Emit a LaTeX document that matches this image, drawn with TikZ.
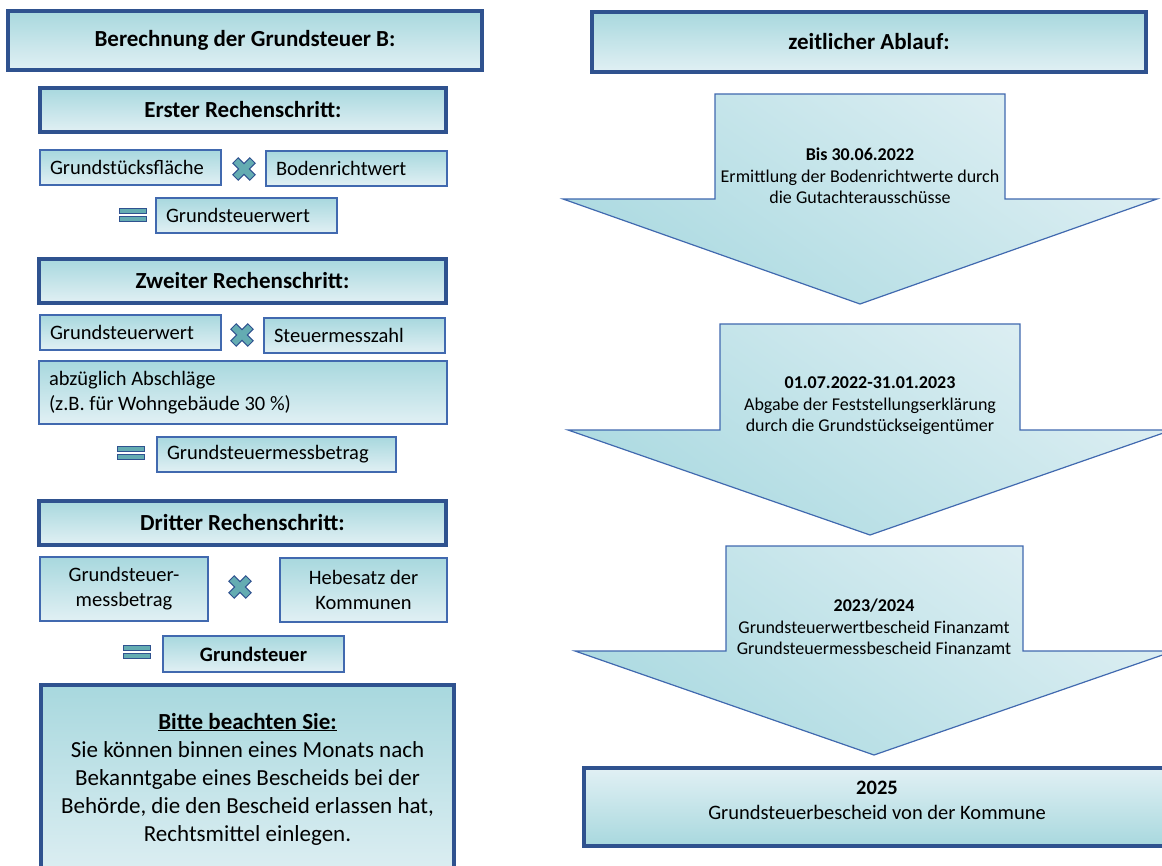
\documentclass[tikz,border=0pt]{standalone}
\usepackage{fontspec}
\setmainfont{Carlito}
\usepackage{tikz}
\usetikzlibrary{positioning,calc}
\definecolor{hdblue}{RGB}{47,82,143}
\definecolor{lnblue}{RGB}{65,105,175}
\definecolor{tealdark}{RGB}{168,216,222}
\definecolor{teallight}{RGB}{225,240,244}
\definecolor{arrowlight}{RGB}{222,239,243}
\definecolor{arrowdark}{RGB}{172,218,225}
\definecolor{signteal}{RGB}{100,172,178}
\tikzstyle{head} = [draw=hdblue, line width=4pt, top color=tealdark, bottom color=teallight, inner sep=0pt, font=\bfseries\fontsize{23}{27}\selectfont]
\tikzstyle{cell} = [draw=lnblue, line width=1.5pt, top color=tealdark, bottom color=teallight, inner sep=0pt, align=center, font=\fontsize{20.5}{25}\selectfont]
\tikzstyle{cellleft} = [cell, align=flush left, inner xsep=10pt]
\tikzstyle{phase} = [draw=lnblue, line width=1.2pt, top color=arrowlight, bottom color=arrowdark, shading angle=-35]
\tikzstyle{phasetext} = [align=center, font=\fontsize{18}{21.5}\selectfont]
\tikzstyle{note} = [align=center, font=\fontsize{23}{28}\selectfont]
\tikzset{
  mult/.pic={\draw[draw=hdblue, fill=signteal, line width=1pt, rotate=45]
    (3.8,12) -- (3.8,3.8) -- (12,3.8) -- (12,-3.8) -- (3.8,-3.8) -- (3.8,-12) -- (-3.8,-12)
    -- (-3.8,-3.8) -- (-12,-3.8) -- (-12,3.8) -- (-3.8,3.8) -- (-3.8,12) -- cycle;},
  equal/.pic={\draw[draw=hdblue, fill=signteal, line width=1pt]
    (-13.5,-6.5) rectangle (13.5,-1.5) (-13.5,1.5) rectangle (13.5,6.5);}
}

\begin{document}
\begin{tikzpicture}[x=1pt, y=-1pt]
		\useasboundingbox (0,0) rectangle (1162,866);
		\clip (0,0) rectangle (1162,866);
		% left column
		\node (calc) [head, minimum width=474pt, minimum height=59pt] at (245,40.5) {Berechnung der Grundsteuer B:};
		\node (first) [head, minimum width=406pt, minimum height=44pt] at (243,110) {Erster Rechenschritt:};
		\node (area) [cellleft, text width=161pt, minimum height=35pt] at (130.5,167.5) {Grundstücksfläche};
		\node (landval) [cellleft, text width=161pt, minimum height=35pt] at (356.5,168.5) {Bodenrichtwert};
		\node (taxval) [cellleft, text width=161pt, minimum height=35pt] at (246.5,215.5) {Grundsteuerwert};
		\pic at (244,169) {mult};
		\pic at (133,215.5) {equal};
		\node (second) [head, minimum width=407pt, minimum height=44pt] at (242.5,281) {Zweiter Rechenschritt:};
		\node (taxval2) [cellleft, text width=161pt, minimum height=35pt] at (130.5,332.5) {Grundsteuerwert};
		\node (rate) [cellleft, text width=161pt, minimum height=35pt] at (354.5,335.5) {Steuermesszahl};
		\node (deduct) [cellleft, text width=388pt, minimum height=63pt] at (243,392.5) {abzüglich Abschläge\\(z.B. für Wohngebäude 30 \%)};
		\node (base) [cellleft, text width=219pt, minimum height=35pt] at (276.5,454.5) {Grundsteuermessbetrag};
		\pic at (242,335) {mult};
		\pic at (130.5,452.5) {equal};
		\node (third) [head, minimum width=407pt, minimum height=44pt] at (242.5,523) {Dritter Rechenschritt:};
		\node (base2) [cell, minimum width=168pt, minimum height=64pt] at (124,589) {Grundsteuer-\\messbetrag};
		\node (levy) [cell, minimum width=167pt, minimum height=64pt] at (363.5,590) {Hebesatz der\\Kommunen};
		\node (tax) [cell, minimum width=181pt, minimum height=36pt, font=\bfseries\fontsize{20.5}{25}\selectfont] at (253.5,654) {Grundsteuer};
		\pic at (240,587) {mult};
		\pic at (136.5,651.5) {equal};
		\node (notice) [head, minimum width=413pt, minimum height=205pt] at (247.5,787.5) {};
		\node (noticetext) [note] at (247.5,779) {\textbf{\underline{Bitte beachten Sie:}}\\Sie können binnen eines Monats nach\\Bekanntgabe eines Bescheids bei der\\Behörde, die den Bescheid erlassen hat,\\Rechtsmittel einlegen.};
		% right column
		\node (timeline) [head, minimum width=554pt, minimum height=60pt] at (869,42) {zeitlicher Ablauf:};
		\draw[phase] (715,94) -- (1005,94) -- (1005,199) -- (1157,199) -- (860,304) -- (563,199) -- (715,199) -- cycle;
		\node (when1) [phasetext] at (860,176) {\textbf{Bis 30.06.2022}\\Ermittlung der Bodenrichtwerte durch\\die Gutachterausschüsse};
		\draw[phase] (720,324) -- (1020,324) -- (1020,430) -- (1172,430) -- (870,535) -- (568,430) -- (720,430) -- cycle;
		\node (when2) [phasetext] at (870,406) {\textbf{01.07.2022-31.01.2023}\\Abgabe der Feststellungserklärung\\durch die Grundstückseigentümer};
		\draw[phase] (726,546) -- (1023,546) -- (1023,651) -- (1174,651) -- (874,755) -- (575,651) -- (726,651) -- cycle;
		\node (when3) [phasetext] at (874,627) {\textbf{2023/2024}\\Grundsteuerwertbescheid Finanzamt\\Grundsteuermessbescheid Finanzamt};
		\node (bill) [head, top color=teallight, bottom color=tealdark, minimum width=586pt, minimum height=78pt] at (877,807) {};
		\node (billtext) [align=center, font=\fontsize{20.5}{25}\selectfont] at (877,800) {\textbf{2025}\\Grundsteuerbescheid von der Kommune};
\end{tikzpicture}
\end{document}
